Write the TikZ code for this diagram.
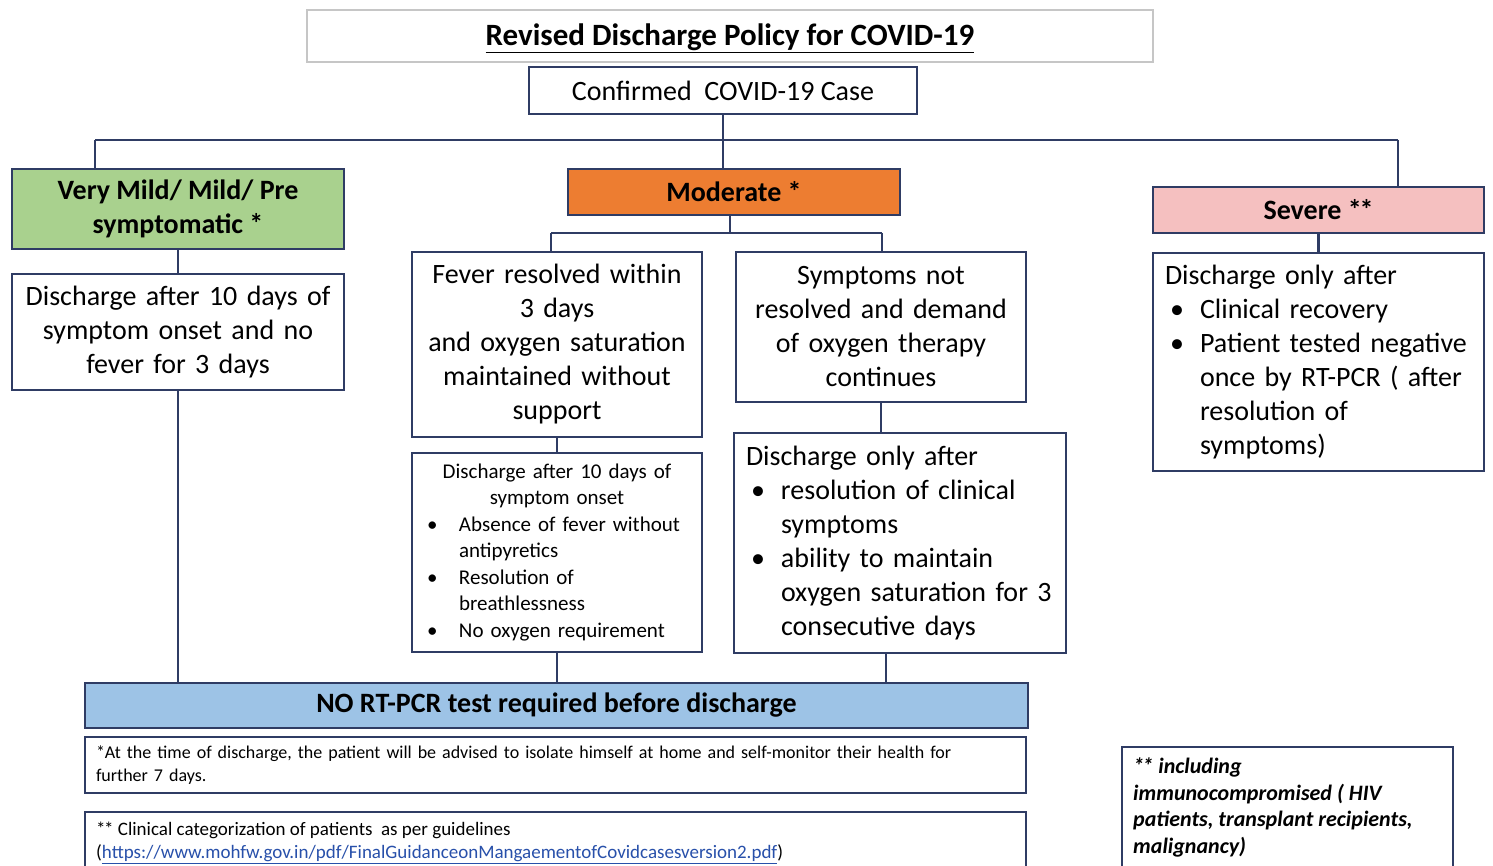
\documentclass[tikz,border=0pt]{standalone}
\usepackage{fontspec}
\setmainfont{Carlito}
\definecolor{navy}{RGB}{47,60,100}
\definecolor{gfill}{RGB}{169,209,142}
\definecolor{ofill}{RGB}{237,125,49}
\definecolor{pfill}{RGB}{245,192,192}
\definecolor{bfill}{RGB}{157,195,230}
\definecolor{linkblue}{RGB}{40,80,170}
\newcommand{\mybul}[2]{\hspace*{#1}\makebox[#2][l]{\textbullet}}
\newcommand{\mycont}[1]{\hspace*{#1}}
\newcommand{\dstar}{*\kern-0.08em*}
\begin{document}
\begin{tikzpicture}[x=1pt,y=-1pt,
  box/.style={draw=navy, line width=2.6pt, rectangle, inner sep=0pt, align=center,
    font=\fontsize{28}{34}\selectfont},
  head/.style={box, font=\bfseries\fontsize{28}{34}\selectfont},
  conn/.style={draw=navy, line width=2.6pt},
  tnode/.style={inner sep=0pt, anchor=north west, align=left}]
\useasboundingbox (0,0) rectangle (1493,866);
\clip (0,0) rectangle (1493,866);
\fill[white] (0,0) rectangle (1493,866);

% title
\node[draw=gray!45, line width=1.5pt, minimum width=846pt, minimum height=52pt, inner sep=0pt,
  font=\bfseries\fontsize{31}{36}\selectfont] (title) at (730,36)
  {\raisebox{-10pt}[0pt][0pt]{\underline{Revised Discharge Policy for COVID-19}}};

\node[box, minimum width=388pt, minimum height=47pt] (conf) at (723,90.5) {Confirmed\ \ COVID-19 Case};

% categories
\node[head, fill=gfill, minimum width=332pt, minimum height=80pt] (mild) at (178,209)
  {Very Mild/ Mild/ Pre\\symptomatic *};
\node[head, fill=ofill, minimum width=332pt, minimum height=46pt] (mod) at (734,192) {Moderate *};
\node[head, fill=pfill, minimum width=331pt, minimum height=46pt] (sev) at (1318.5,210) {Severe \dstar};

% mild branch
\node[box, minimum width=332pt, minimum height=116pt, text width=320pt] (mildtxt) at (178,332)
  {Discharge after 10 days of\\symptom onset and no\\fever for 3 days};

% moderate branch
\node[box, minimum width=290pt, minimum height=185pt, text width=280pt] (fever) at (557,344.5)
  {Fever resolved within\\3 days\\and oxygen saturation\\maintained without\\support};
\node[box, minimum width=290pt, minimum height=150pt, text width=280pt] (symp) at (881,327)
  {Symptoms not\\resolved and demand\\of oxygen therapy\\continues};
\node[box, minimum width=290pt, minimum height=199pt, text width=270pt, align=left,
  font=\fontsize{21}{26.5}\selectfont] (d10) at (557,552.5)
  {\makebox[270pt][c]{Discharge after 10 days of}\\
   \makebox[270pt][c]{symptom onset}\\
   \mybul{5pt}{32pt}Absence of fever without\\
   \mycont{37pt}antipyretics\\
   \mybul{5pt}{32pt}Resolution of\\
   \mycont{37pt}breathlessness\\
   \mybul{5pt}{32pt}No oxygen requirement};
\node[box, minimum width=332pt, minimum height=220pt, text width=308pt, align=left] (donly) at (900,543)
  {Discharge only after\\
   \mybul{5pt}{30pt}resolution of clinical\\
   \mycont{35pt}symptoms\\
   \mybul{5pt}{30pt}ability to maintain\\
   \mycont{35pt}oxygen saturation for 3\\
   \mycont{35pt}consecutive days};

% severe branch
\node[box, minimum width=331pt, minimum height=218pt, text width=307pt, align=left] (sevtxt) at (1318.5,362)
  {Discharge only after\\
   \mybul{5pt}{30pt}Clinical recovery\\
   \mybul{5pt}{30pt}Patient tested negative\\
   \mycont{35pt}once by RT-PCR ( after\\
   \mycont{35pt}resolution of\\
   \mycont{35pt}symptoms)};

% bottom
\node[head, fill=bfill, minimum width=943pt, minimum height=45pt] (nort) at (556.5,705.5)
  {NO RT-PCR test required before discharge};
\node[box, minimum width=941pt, minimum height=56pt, text width=919pt, align=left,
  font=\fontsize{18}{23}\selectfont] (fn1) at (555.5,765)
  {*At the time of discharge, the patient will be advised to isolate himself at home and self-monitor their health for\\further 7 days.};
\node[box, minimum width=941pt, minimum height=120pt] (fn2) at (555.5,872) {};
\node[tnode, font=\fontsize{19}{23}\selectfont] (fn2t) at (96,822)
  {\dstar{} Clinical categorization of patients\ \ as per guidelines\\
   ({\color{linkblue}\underline{https://www.mohfw.gov.in/pdf/FinalGuidanceonMangaementofCovidcasesversion2.pdf}})};
\node[box, minimum width=331pt, minimum height=180pt] (fn3) at (1287.5,837) {};
\node[tnode, font=\bfseries\itshape\fontsize{22}{26.5}\selectfont] (fn3t) at (1133,758)
  {\dstar{} including\\immunocompromised ( HIV\\patients, transplant recipients,\\malignancy)};

% connectors
\coordinate (jl) at (95,140);
\coordinate (jm) at (723,140);
\coordinate (jr) at (1398,140);
\draw[conn] (conf.south) -- (jm);
\draw[conn] (jl) -- (jr);
\draw[conn] (jl) -- (jl |- mild.north);
\draw[conn] (jm) -- (jm |- mod.north);
\draw[conn] (jr) -- (jr |- sev.north);
\draw[conn] (mild.south) -- (mildtxt.north);
\draw[conn] (mildtxt.south) -- (mildtxt.south |- nort.north);
\coordinate (mj) at (730,233);
\coordinate (ml) at (551,233);
\coordinate (mr) at (882,233);
\draw[conn] (mj |- mod.south) -- (mj);
\draw[conn] (ml) -- (mr);
\draw[conn] (ml) -- (ml |- fever.north);
\draw[conn] (mr) -- (mr |- symp.north);
\draw[conn] (fever.south) -- (d10.north);
\draw[conn] (symp.south) -- (symp.south |- donly.north);
\draw[conn] (d10.south) -- (d10.south |- nort.north);
\coordinate (dj) at (886,653);
\draw[conn] (dj) -- (dj |- nort.north);
\draw[conn] (sev.south) -- (sevtxt.north);
\end{tikzpicture}
\end{document}
